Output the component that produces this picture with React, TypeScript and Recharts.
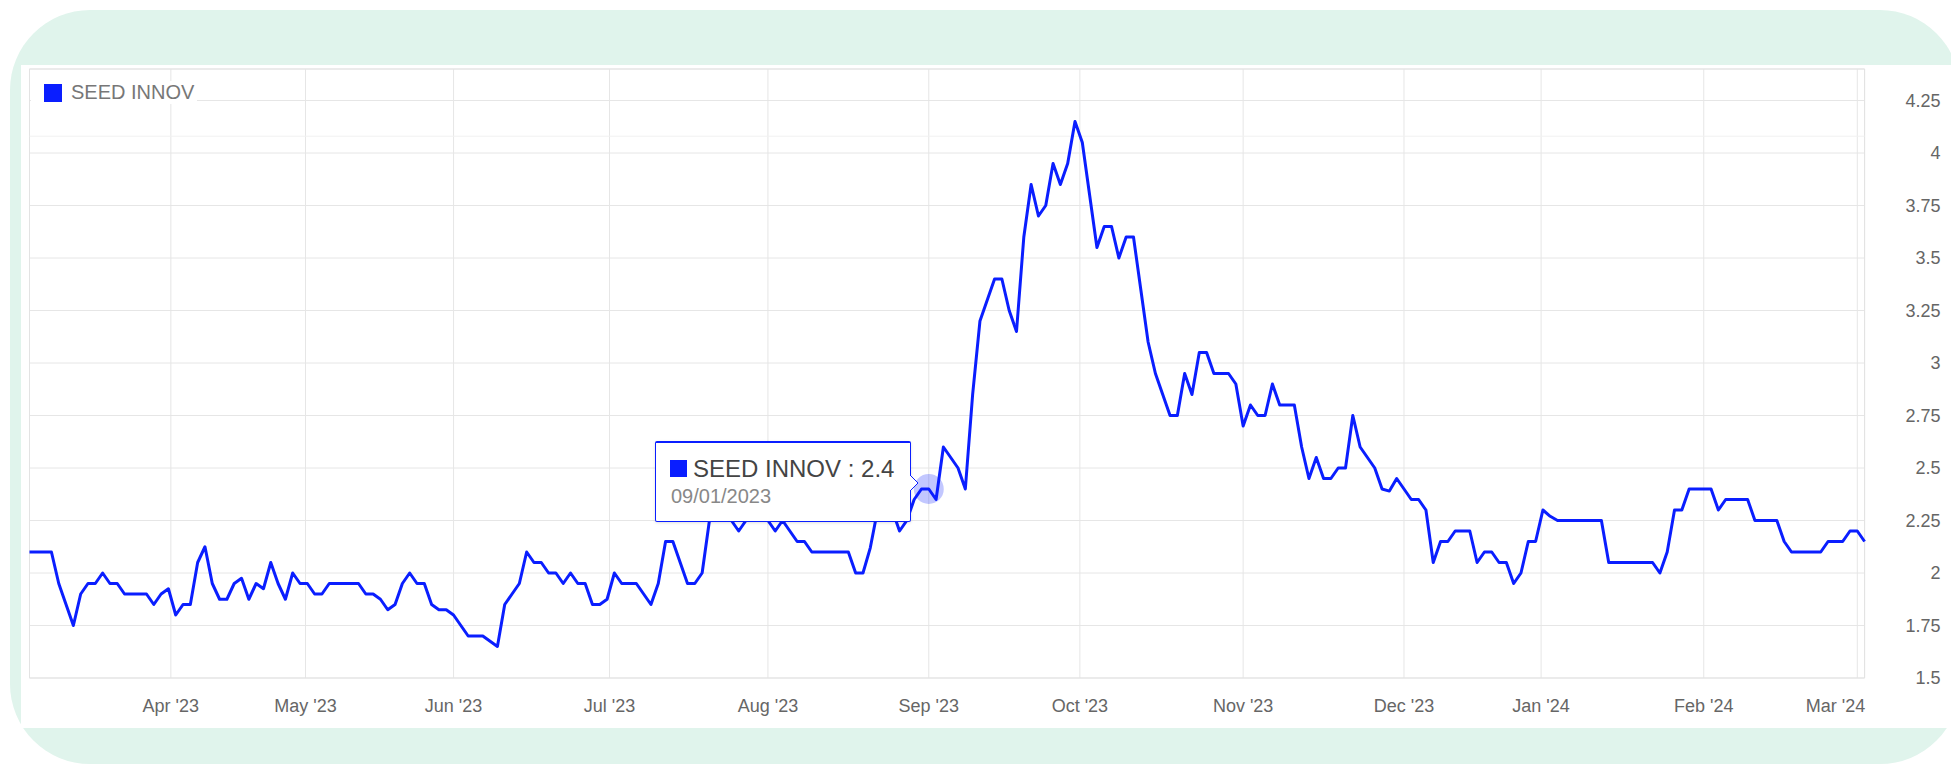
import React from 'react';
import {
  LineChart,
  Line,
  XAxis,
  YAxis,
  CartesianGrid,
  Tooltip,
  ReferenceArea,
  ReferenceLine,
} from 'recharts';

const SERIES_NAME = 'SEED INNOV';
const BLUE = '#0a1eff';
const FONT = '"Liberation Sans", Arial, Helvetica, sans-serif';

// daily closes, one array per calendar month (trading days only)
const mar23 = [2.1, 2.1, 2.1, 2.1, 1.95, 1.85, 1.75, 1.9, 1.95, 1.95, 2.0, 1.95, 1.95, 1.9, 1.9, 1.9, 1.9, 1.85, 1.9, 1.925];
const apr23 = [1.8, 1.85, 1.85, 2.05, 2.125, 1.95, 1.875, 1.875, 1.95, 1.975, 1.875, 1.95, 1.925, 2.05, 1.95, 1.875, 2.0, 1.95];
const may23 = [1.95, 1.9, 1.9, 1.95, 1.95, 1.95, 1.95, 1.95, 1.9, 1.9, 1.875, 1.825, 1.85, 1.95, 2.0, 1.95, 1.95, 1.85, 1.825, 1.825];
const jun23 = [1.8, 1.75, 1.7, 1.7, 1.7, 1.675, 1.65, 1.85, 1.9, 1.95, 2.1, 2.05, 2.05, 2.0, 2.0, 1.95, 2.0, 1.95, 1.95, 1.85, 1.85, 1.875];
const jul23 = [2.0, 1.95, 1.95, 1.95, 1.9, 1.85, 1.95, 2.15, 2.15, 2.05, 1.95, 1.95, 2.0, 2.25, 2.3, 2.3, 2.25, 2.2, 2.25, 2.3, 2.25];
const aug23 = [2.25, 2.2, 2.25, 2.2, 2.15, 2.15, 2.1, 2.1, 2.1, 2.1, 2.1, 2.1, 2.0, 2.0, 2.12, 2.3, 2.3, 2.3, 2.2, 2.25, 2.35, 2.4];
const sep23 = [2.4, 2.35, 2.6, 2.55, 2.5, 2.4, 2.85, 3.2, 3.3, 3.4, 3.4, 3.25, 3.15, 3.6, 3.85, 3.7, 3.75, 3.95, 3.85, 3.95, 4.15];
const oct23 = [4.05, 3.8, 3.55, 3.65, 3.65, 3.5, 3.6, 3.6, 3.35, 3.1, 2.95, 2.85, 2.75, 2.75, 2.95, 2.85, 3.05, 3.05, 2.95, 2.95, 2.95, 2.9];
const nov23 = [2.7, 2.8, 2.75, 2.75, 2.9, 2.8, 2.8, 2.8, 2.6, 2.45, 2.55, 2.45, 2.45, 2.5, 2.5, 2.75, 2.6, 2.55, 2.5, 2.4, 2.39, 2.45];
const dec23 = [2.4, 2.35, 2.35, 2.3, 2.05, 2.15, 2.15, 2.2, 2.2, 2.2, 2.05, 2.1, 2.1, 2.05, 2.05, 1.95, 2.0, 2.15, 2.15];
const jan24 = [2.3, 2.27, 2.25, 2.25, 2.25, 2.25, 2.25, 2.25, 2.25, 2.05, 2.05, 2.05, 2.05, 2.05, 2.05, 2.05, 2.0, 2.1, 2.3, 2.3, 2.4, 2.4];
const feb24 = [2.4, 2.4, 2.3, 2.35, 2.35, 2.35, 2.35, 2.25, 2.25, 2.25, 2.25, 2.15, 2.1, 2.1, 2.1, 2.1, 2.1, 2.15, 2.15, 2.15, 2.2];
const mar24 = [2.2, 2.15];

const monthlyCloses = [mar23, apr23, may23, jun23, jul23, aug23, sep23, oct23, nov23, dec23, jan24, feb24, mar24];

// trading calendar
const firstDay = '2023-03-06';
const lastDay = '2024-03-04';
const marketHolidays = [
  '2023-04-07', '2023-04-10', '2023-05-01', '2023-05-08', '2023-05-29',
  '2023-08-28', '2023-12-25', '2023-12-26', '2024-01-01',
];

// x axis
const monthStarts = [
  '2023-04-01', '2023-05-01', '2023-06-01', '2023-07-01', '2023-08-01', '2023-09-01',
  '2023-10-01', '2023-11-01', '2023-12-01', '2024-01-01', '2024-02-01', '2024-03-01',
];
const monthLabels = ["Apr '23", "May '23", "Jun '23", "Jul '23", "Aug '23", "Sep '23", "Oct '23", "Nov '23", "Dec '23", "Jan '24", "Feb '24", "Mar '24"];

// y axis
const yTicks = [1.5, 1.75, 2, 2.25, 2.5, 2.75, 3, 3.25, 3.5, 3.75, 4, 4.25];
const yMax = 4.4;
const hoverDate = '2023-09-01';

const DAY = 86400000;
const toTime = (iso: string) => Date.parse(iso + 'T00:00:00Z');
const toIso = (t: number) => new Date(t).toISOString().slice(0, 10);

function tradingDays(): string[] {
  const out: string[] = [];
  for (let t = toTime(firstDay); t <= toTime(lastDay); t += DAY) {
    const wd = new Date(t).getUTCDay();
    const iso = toIso(t);
    if (wd === 0 || wd === 6 || marketHolidays.includes(iso)) continue;
    out.push(iso);
  }
  return out;
}

const days = tradingDays();
const closes = monthlyCloses.flat();
const data = days.map((date, i) => ({ pos: i, date, close: closes[i] }));

// ordinal axis: a month start that falls between sessions sits proportionally between them
const tickPositions = monthStarts.map((iso) => {
  const t = toTime(iso);
  const j = days.findIndex((d) => toTime(d) >= t);
  const tj = toTime(days[j]);
  if (tj === t || j === 0) return j;
  const tp = toTime(days[j - 1]);
  return j - 1 + (t - tp) / (tj - tp);
});

const hoverIndex = days.indexOf(hoverDate);

function formatDate(iso: string) {
  const [y, m, d] = iso.split('-');
  return `${m}/${d}/${y}`;
}

function MonthTick(props: any) {
  const { x, y, payload } = props;
  const k = tickPositions.indexOf(payload.value);
  const last = k === tickPositions.length - 1;
  return (
    <text
      x={last ? x + 8 : x}
      y={y}
      dy={34}
      textAnchor={last ? 'end' : 'middle'}
      fill="#666"
      fontSize={18}
      fontFamily={FONT}
    >
      {monthLabels[k]}
    </text>
  );
}

function PriceTick(props: any) {
  const { x, y, payload } = props;
  return (
    <text x={x + 76} y={y} dy="0.355em" textAnchor="end" fill="#666" fontSize={18} fontFamily={FONT}>
      {String(payload.value)}
    </text>
  );
}

function TipBox({ active, payload }: any) {
  if (!active || !payload || !payload.length) return null;
  const row = payload[0].payload;
  return (
    <div
      style={{
        position: 'relative',
        width: 256,
        height: 81,
        boxSizing: 'border-box',
        background: '#fff',
        border: `1px solid ${BLUE}`,
        borderTopWidth: 2,
        borderRadius: 2,
        boxShadow: '0 1px 3px rgba(0,0,0,0.12)',
        fontFamily: FONT,
      }}
    >
      <div style={{ position: 'absolute', left: 14, top: 17, width: 17, height: 17, background: BLUE }} />
      <div style={{ position: 'absolute', left: 37, top: 12, fontSize: 24, lineHeight: '28px', color: '#444', whiteSpace: 'nowrap' }}>
        {SERIES_NAME} : {row.close}
      </div>
      <div style={{ position: 'absolute', left: 15, top: 41, fontSize: 20, lineHeight: '24px', color: '#888', whiteSpace: 'nowrap' }}>
        {formatDate(row.date)}
      </div>
      <svg width={10} height={18} style={{ position: 'absolute', left: 254, top: 32, overflow: 'visible' }}>
        <path d="M0,0 L8,8 L0,16" fill="#fff" stroke={BLUE} strokeWidth={1} />
      </svg>
    </div>
  );
}

export default function App() {
  return (
    <div style={{ position: 'relative', width: 1951, height: 764, overflow: 'hidden', background: '#fff', fontFamily: FONT }}>
      <style>{'body{margin:0}'}</style>
      <div
        style={{
          position: 'absolute',
          left: 10,
          top: 10,
          width: 1950,
          height: 754,
          background: '#e0f4ec',
          borderRadius: 80,
        }}
      />
      <div style={{ position: 'absolute', left: 21, top: 65, width: 1940, height: 663, background: '#fff' }} />
      <div style={{ position: 'absolute', left: 0, top: 0 }}>
        <LineChart
          width={1951}
          height={764}
          data={data}
          margin={{ top: 69, right: 0, bottom: 56, left: 29.5 }}
        >
          <CartesianGrid stroke="#e6e6e6" strokeWidth={1} />
          <ReferenceLine y={4.08} stroke="#f1f1f1" strokeWidth={1} />
          <ReferenceArea x1={0} x2={data.length - 1} y1={1.5} y2={yMax} fill="none" stroke="#e3e3e3" strokeWidth={1} />
          <XAxis
            type="number"
            dataKey="pos"
            domain={[0, data.length - 1]}
            ticks={tickPositions}
            interval={0}
            tick={MonthTick}
            axisLine={false}
            tickLine={false}
            tickSize={0}
            tickMargin={0}
            height={30}
          />
          <YAxis
            orientation="right"
            type="number"
            domain={[1.5, yMax]}
            ticks={yTicks}
            interval={0}
            tick={PriceTick}
            axisLine={false}
            tickLine={false}
            tickSize={0}
            tickMargin={0}
            width={86.4}
          />
          <Tooltip
            content={TipBox}
            active
            defaultIndex={hoverIndex}
            position={{ x: 655, y: 441 }}
            cursor={false}
            isAnimationActive={false}
            wrapperStyle={{ outline: 'none', zIndex: 5 }}
          />
          <Line
            type="linear"
            dataKey="close"
            name={SERIES_NAME}
            stroke={BLUE}
            strokeWidth={3}
            strokeLinejoin="round"
            dot={false}
            activeDot={{ r: 15, fill: BLUE, fillOpacity: 0.25, stroke: 'none' }}
            isAnimationActive={false}
          />
        </LineChart>
      </div>
      <div style={{ position: 'absolute', left: 31, top: 81, width: 166, height: 23, background: '#fff' }}>
        <div style={{ position: 'absolute', left: 13, top: 3, width: 18, height: 18, background: BLUE }} />
        <div style={{ position: 'absolute', left: 40, top: 0, fontSize: 20, lineHeight: '23px', color: '#777', whiteSpace: 'nowrap' }}>
          {SERIES_NAME}
        </div>
      </div>
    </div>
  );
}
